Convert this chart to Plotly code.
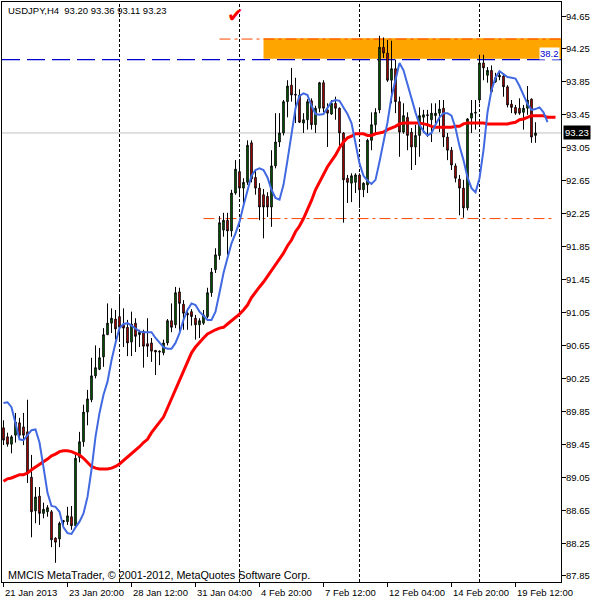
import plotly.graph_objects as go

symbol = "USDJPY,H4"
copyright_text = "MMCIS MetaTrader, © 2001-2012, MetaQuotes Software Corp."

open_ = [89.65, 89.54, 89.45, 89.56, 89.71, 89.66, 89.60, 89.05, 88.64, 88.82,
         88.61, 88.63, 88.63, 88.31, 88.30, 88.51, 88.51, 88.57, 88.46, 89.29,
         89.48, 89.84, 89.99, 90.28, 90.36, 90.51, 90.78, 90.92, 90.97, 91.00,
         90.90, 90.87, 90.69, 90.92, 90.78, 90.82, 90.67, 90.68, 90.59, 90.58,
         90.56, 90.68, 90.95, 90.90, 91.30, 91.15, 91.04, 91.06, 90.98, 90.90,
         90.92, 91.00, 91.29, 91.57, 91.74, 92.05, 92.17, 92.04, 92.50, 92.76,
         92.56, 92.63, 93.11, 92.69, 92.56, 92.48, 92.46, 92.33, 92.83, 93.12,
         93.23, 93.61, 93.81, 93.70, 93.69, 93.35, 93.39, 93.62, 93.33, 93.53,
         93.84, 93.51, 93.46, 93.59, 93.53, 93.23, 92.68, 92.62, 92.63, 92.72,
         92.54, 92.60, 93.14, 93.33, 93.51, 94.27, 94.20, 93.87, 94.01, 93.61,
         93.24, 93.42, 93.24, 93.06, 93.20, 93.42, 93.44, 93.39, 93.44, 93.47,
         93.53, 93.18, 93.02, 92.83, 92.67, 92.56, 92.32, 93.41, 93.47, 93.63,
         94.08, 93.93, 93.99, 93.85, 93.91, 93.92, 93.79, 93.58, 93.54, 93.53,
         93.48, 93.53, 93.64, 93.20]

high = [89.74, 89.59, 89.56, 89.83, 89.77, 89.83, 89.99, 89.32, 88.93, 88.93,
        88.74, 88.71, 88.65, 88.32, 88.51, 88.53, 88.69, 88.70, 89.32, 89.60,
        89.93, 90.11, 90.50, 90.65, 90.62, 90.86, 91.16, 91.10, 91.08, 91.24,
        91.10, 90.96, 91.06, 90.98, 90.84, 90.84, 90.98, 90.74, 90.59, 90.59,
        90.72, 90.97, 91.16, 91.36, 91.35, 91.20, 91.10, 91.09, 91.02, 90.98,
        91.08, 91.35, 91.59, 91.83, 92.22, 92.26, 92.26, 92.54, 92.90, 92.88,
        92.68, 93.14, 93.14, 92.78, 92.62, 92.55, 92.51, 93.02, 93.47, 93.47,
        93.63, 93.87, 94.02, 93.90, 93.76, 93.47, 93.64, 93.65, 93.56, 93.85,
        93.87, 93.59, 93.63, 93.67, 93.54, 93.24, 92.72, 92.74, 92.74, 92.74,
        92.63, 93.16, 93.48, 93.53, 94.41, 94.39, 94.36, 94.35, 94.12, 93.67,
        93.59, 93.48, 93.29, 93.33, 93.54, 93.51, 93.51, 93.59, 93.59, 93.63,
        93.63, 93.23, 93.06, 92.86, 92.72, 92.66, 93.41, 93.63, 93.63, 94.18,
        94.18, 94.03, 94.05, 93.96, 93.98, 93.95, 93.81, 93.63, 93.57, 93.65,
        93.57, 93.80, 93.65, 93.36]

low = [89.44, 89.42, 89.34, 89.47, 89.54, 89.44, 88.98, 88.32, 88.49, 88.47,
       88.55, 88.57, 88.20, 88.01, 88.20, 88.47, 88.47, 88.41, 88.44, 89.23,
       89.42, 89.68, 89.96, 90.25, 90.35, 90.39, 90.78, 90.80, 90.72, 90.72,
       90.63, 90.52, 90.52, 90.57, 90.63, 90.38, 90.51, 90.45, 90.29, 90.41,
       90.53, 90.65, 90.81, 90.86, 90.81, 90.84, 90.84, 90.89, 90.72, 90.74,
       90.90, 90.98, 91.24, 91.53, 91.69, 91.97, 91.75, 91.97, 92.48, 92.45,
       92.35, 92.60, 92.63, 92.48, 92.17, 91.95, 92.21, 92.09, 92.80, 93.06,
       93.20, 93.42, 93.61, 93.35, 93.35, 93.23, 93.27, 93.27, 93.23, 93.48,
       93.48, 93.06, 93.45, 93.39, 93.06, 92.14, 92.38, 92.39, 92.50, 92.32,
       92.45, 92.50, 93.02, 93.23, 93.47, 94.14, 93.85, 93.59, 93.47, 92.94,
       93.22, 93.02, 92.78, 92.84, 92.94, 93.23, 93.18, 93.12, 93.30, 93.24,
       93.06, 92.90, 92.78, 92.63, 92.23, 92.20, 92.29, 93.23, 93.27, 93.59,
       93.87, 93.84, 93.73, 93.84, 93.87, 93.67, 93.54, 93.47, 93.45, 93.45,
       93.27, 93.45, 93.11, 93.11]

close = [89.50, 89.45, 89.54, 89.72, 89.56, 89.56, 89.10, 88.63, 88.81, 88.61,
         88.66, 88.68, 88.29, 88.26, 88.49, 88.52, 88.58, 88.46, 89.28, 89.48,
         89.84, 90.00, 90.28, 90.38, 90.50, 90.78, 90.92, 90.98, 90.85, 90.87,
         90.86, 90.68, 90.91, 90.76, 90.81, 90.64, 90.64, 90.58, 90.57, 90.57,
         90.68, 90.95, 90.87, 91.29, 91.16, 91.04, 91.02, 91.00, 90.90, 90.95,
         91.02, 91.29, 91.54, 91.75, 92.14, 92.17, 92.04, 92.50, 92.79, 92.56,
         92.63, 93.08, 92.67, 92.56, 92.33, 92.33, 92.33, 92.83, 93.12, 93.23,
         93.61, 93.80, 93.69, 93.69, 93.36, 93.39, 93.61, 93.33, 93.53, 93.84,
         93.53, 93.47, 93.59, 93.53, 93.23, 92.66, 92.63, 92.71, 92.72, 92.54,
         92.62, 93.14, 93.33, 93.48, 94.27, 94.20, 93.87, 94.01, 93.61, 93.24,
         93.44, 93.20, 93.06, 93.20, 93.44, 93.45, 93.45, 93.47, 93.47, 93.52,
         93.18, 93.02, 92.84, 92.68, 92.56, 92.32, 93.40, 93.47, 93.48, 94.08,
         94.02, 93.99, 93.73, 93.90, 93.93, 93.79, 93.57, 93.54, 93.47, 93.47,
         93.53, 93.63, 93.18, 93.23]

# fast (blue) moving average, values per bar index from 0
blue_ma = [89.95, 89.96, 89.90, 89.71, 89.51, 89.50, 89.56, 89.62, 89.63, 89.47,
           89.17, 88.86, 88.70, 88.69, 88.63, 88.44, 88.37, 88.36, 88.44, 88.51,
           88.61, 88.81, 89.14, 89.54, 89.83, 90.05, 90.21, 90.47, 90.68, 90.86,
           90.91, 90.92, 90.89, 90.86, 90.82, 90.81, 90.81, 90.81, 90.74, 90.69,
           90.63, 90.61, 90.61, 90.68, 90.80, 90.96, 91.08, 91.16, 91.14, 91.06,
           91.01, 90.96, 90.96, 91.06, 91.29, 91.53, 91.71, 91.89, 92.01, 92.15,
           92.35, 92.54, 92.71, 92.78, 92.80, 92.78, 92.69, 92.54, 92.44, 92.42,
           92.60, 92.90, 93.20, 93.53, 93.68, 93.71, 93.69, 93.56, 93.46, 93.45,
           93.46, 93.54, 93.61, 93.63, 93.62, 93.54, 93.46, 93.35, 93.12, 92.86,
           92.71, 92.65, 92.61, 92.66, 92.88, 93.13, 93.36, 93.67, 93.87, 94.08,
           93.99, 93.81, 93.65, 93.48, 93.33, 93.25, 93.20, 93.23, 93.33, 93.42,
           93.47, 93.47, 93.44, 93.29, 93.07, 92.90, 92.69, 92.56, 92.51, 92.68,
           93.02, 93.48, 93.75, 93.90, 93.98, 93.95, 93.91, 93.90, 93.89, 93.80,
           93.70, 93.58, 93.51, 93.52, 93.54, 93.48, 93.36]

# slow (red) moving average, values per bar index from 0
red_ma = [89.00, 89.03, 89.04, 89.06, 89.08, 89.08, 89.10, 89.14, 89.17, 89.21,
          89.23, 89.27, 89.31, 89.33, 89.36, 89.37, 89.37, 89.36, 89.34, 89.32,
          89.28, 89.23, 89.18, 89.16, 89.15, 89.15, 89.15, 89.16, 89.18, 89.21,
          89.25, 89.29, 89.34, 89.37, 89.42, 89.47, 89.51, 89.59, 89.65, 89.72,
          89.78, 89.89, 90.00, 90.12, 90.23, 90.35, 90.46, 90.56, 90.63, 90.69,
          90.74, 90.79, 90.82, 90.84, 90.86, 90.87, 90.91, 90.95, 90.98, 91.03,
          91.08, 91.14, 91.23, 91.30, 91.36, 91.42, 91.49, 91.57, 91.64, 91.71,
          91.77, 91.86, 91.93, 92.03, 92.10, 92.19, 92.29, 92.41, 92.54, 92.63,
          92.73, 92.82, 92.89, 92.96, 93.05, 93.12, 93.17, 93.19, 93.22, 93.22,
          93.22, 93.20, 93.20, 93.22, 93.23, 93.24, 93.27, 93.29, 93.31, 93.34,
          93.35, 93.35, 93.35, 93.35, 93.35, 93.34, 93.33, 93.31, 93.30, 93.30,
          93.30, 93.30, 93.30, 93.31, 93.31, 93.34, 93.35, 93.35, 93.35, 93.35,
          93.35, 93.34, 93.34, 93.34, 93.34, 93.34, 93.34, 93.35, 93.36, 93.39,
          93.40, 93.42, 93.44, 93.44, 93.44, 93.44, 93.42, 93.42, 93.42]

tick_bars = [0, 16, 32, 48, 64, 80, 96, 112, 128]
tick_labels = ["21 Jan 2013", "23 Jan 20:00", "28 Jan 12:00", "31 Jan 04:00",
               "4 Feb 20:00", "7 Feb 12:00", "12 Feb 04:00", "14 Feb 20:00",
               "19 Feb 12:00"]
price_ticks = [87.85, 88.25, 88.65, 89.05, 89.45, 89.85, 90.25, 90.65, 91.05,
               91.45, 91.85, 92.25, 92.65, 93.05, 93.45, 93.85, 94.25, 94.65]

week_separators = [29, 59, 89, 119]
fib_level = 94.12
fib_label = "38.2"
zone_start, zone_top, zone_bottom = 65, 94.38, 94.13
resistance_start, resistance_level = 54, 94.37
support_start, support_end, support_level = 50, 138, 92.19
check_bar, check_price = 58, 94.66

bars = list(range(len(close)))
x_lo, x_hi = -0.375, 139.375
y_lo, y_hi = 87.777, 94.82
FONT = "Liberation Sans"
FS = 9.5

fig = go.Figure()
fig.add_trace(go.Candlestick(
    x=bars, open=open_, high=high, low=low, close=close,
    increasing=dict(fillcolor="#008000", line=dict(color="black", width=1)),
    decreasing=dict(fillcolor="#FF0000", line=dict(color="black", width=1)),
    whiskerwidth=0, showlegend=False, hoverinfo="skip"))
fig.add_trace(go.Scatter(x=list(range(len(red_ma))), y=red_ma, mode="lines",
                         line=dict(color="#FF0000", width=3), showlegend=False,
                         hoverinfo="skip"))
fig.add_trace(go.Scatter(x=list(range(len(blue_ma))), y=blue_ma, mode="lines",
                         line=dict(color="#4169E1", width=2), showlegend=False,
                         hoverinfo="skip"))

shapes = []
shapes.append(dict(type="rect", xref="x", yref="y", x0=zone_start, x1=x_hi,
                   y0=zone_bottom, y1=zone_top, fillcolor="#FFA500",
                   line=dict(width=0), layer="below"))
shapes.append(dict(type="line", xref="x", yref="y", x0=x_lo, x1=x_hi,
                   y0=close[-1], y1=close[-1],
                   line=dict(color="#C0C0C0", width=1), layer="below"))
for b in week_separators:
    shapes.append(dict(type="line", xref="x", yref="paper", x0=b, x1=b, y0=0, y1=1,
                       line=dict(color="black", width=1, dash="3px,2px"),
                       layer="below"))
shapes.append(dict(type="line", xref="x", yref="y", x0=resistance_start, x1=x_hi,
                   y0=resistance_level, y1=resistance_level,
                   line=dict(color="#FF4500", width=1, dash="11px,4px,3px,4px"),
                   layer="below"))
shapes.append(dict(type="line", xref="x", yref="y", x0=support_start, x1=support_end,
                   y0=support_level, y1=support_level,
                   line=dict(color="#FF4500", width=1, dash="11px,4px,3px,4px"),
                   layer="below"))
shapes.append(dict(type="line", xref="x", yref="y", x0=x_lo, x1=x_hi,
                   y0=fib_level, y1=fib_level,
                   line=dict(color="#0000CD", width=1.3, dash="18px,7px"),
                   layer="below"))

annotations = [
    dict(text=f"{symbol}  {open_[-1]:.2f} {high[-1]:.2f} {low[-1]:.2f} {close[-1]:.2f}",
         xref="paper", yref="paper", x=0.008, y=0.985, xanchor="left",
         yanchor="middle", showarrow=False,
         font=dict(family=FONT, size=FS, color="black")),
    dict(text=copyright_text, xref="paper", yref="paper", x=0.008, y=0.012,
         xanchor="left", yanchor="middle", showarrow=False,
         font=dict(family=FONT, size=10.8, color="black")),
    dict(text=fib_label, xref="paper", yref="y", x=0.9975, y=fib_level,
         xanchor="right", yanchor="bottom", showarrow=False, bgcolor="white",
         borderpad=0, font=dict(family=FONT, size=FS, color="#0000CD")),
    dict(text="✔", xref="x", yref="y", x=check_bar, y=check_price,
         showarrow=False, font=dict(family="DejaVu Sans", size=20, color="#FF0000")),
]
for b, lab in zip(tick_bars, tick_labels):
    annotations.append(dict(text=lab, xref="x", yref="paper", x=b, y=0,
                            xanchor="left", yanchor="top", xshift=-1, yshift=-3,
                            showarrow=False,
                            font=dict(family=FONT, size=FS, color="black")))
for v in price_ticks:
    annotations.append(dict(text=f"{v:.2f}", xref="paper", yref="y", x=1, y=v,
                            xanchor="left", yanchor="middle", xshift=3,
                            showarrow=False,
                            font=dict(family=FONT, size=FS, color="black")))
annotations.append(dict(text=f"{close[-1]:.2f}", xref="paper", yref="y", x=1,
                        y=close[-1], xanchor="left", yanchor="middle", xshift=2,
                        showarrow=False, bgcolor="black", borderpad=1,
                        font=dict(family=FONT, size=FS, color="white")))

fig.update_layout(
    width=600, height=600,
    margin=dict(l=2, r=39, t=2, b=18, autoexpand=False),
    paper_bgcolor="white", plot_bgcolor="white",
    boxgap=0.45,
    shapes=shapes, annotations=annotations,
    showlegend=False,
    xaxis=dict(range=[x_lo, x_hi], tickvals=tick_bars, showticklabels=False,
               ticks="outside", ticklen=4, tickcolor="black", automargin=False,
               showline=True, linecolor="black", linewidth=1, mirror=True,
               showgrid=False, zeroline=False, rangeslider=dict(visible=False)),
    yaxis=dict(range=[y_lo, y_hi], side="right", tickvals=price_ticks,
               showticklabels=False, automargin=False,
               ticks="outside", ticklen=4, tickcolor="black",
               showline=True, linecolor="black", linewidth=1, mirror=True,
               showgrid=False, zeroline=False),
)

fig.write_html("out.html", config={"displayModeBar": False},
               post_script="document.body.style.margin='0';document.body.style.overflow='hidden';")
